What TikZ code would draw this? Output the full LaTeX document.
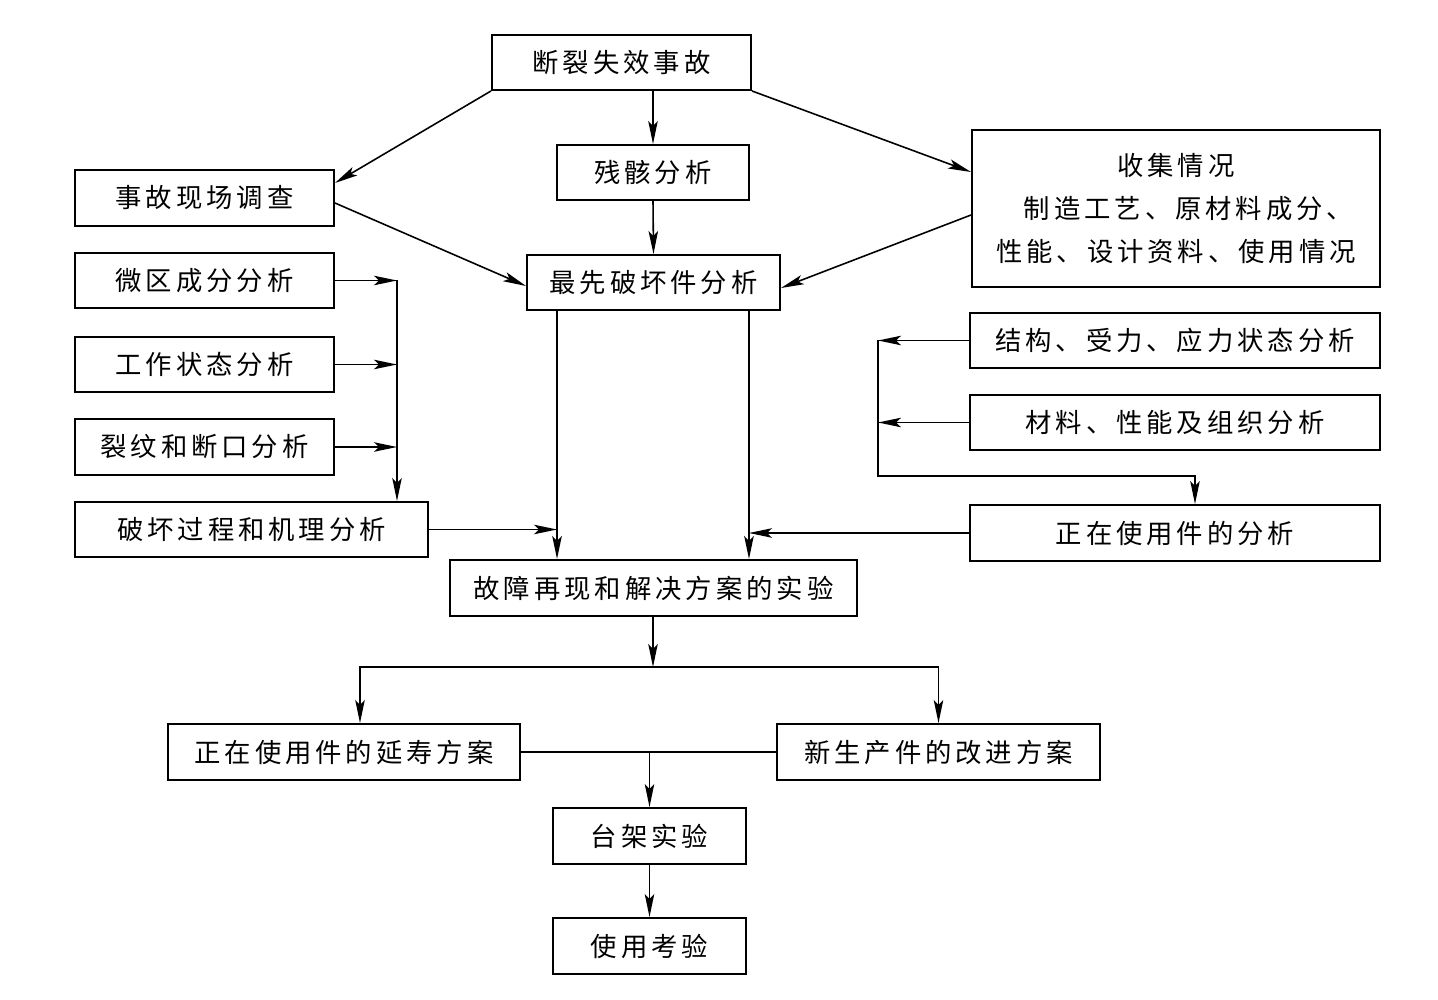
\documentclass[tikz,border=0pt]{standalone}
\usepackage{fontspec}
\setmainfont{Noto Sans CJK SC}[LetterSpace=15]
\usetikzlibrary{arrows.meta, positioning}

\begin{document}
\begin{tikzpicture}[
    x=0.02cm, y=-0.02cm,
    box/.style={draw, line width=1.1pt, inner sep=2pt, align=center,
                font=\fontsize{15}{24.4}\selectfont},
    sz/.style 2 args={minimum width=#1*0.02cm, minimum height=#2*0.02cm},
    arr/.style={-{Stealth[length=0.46cm, width=0.19cm, inset=0.1cm]}, line width=0.9pt},
    ln/.style={line width=0.9pt}
  ]
    \useasboundingbox (0,0) rectangle (1438,1000);

    % top part
    \node[box, sz={259}{55}] (acc)     at (621.5,62.5) {断裂失效事故};
    \node[box, sz={192}{55}] (wreck)   at (653,172.5)  {残骸分析};
    \node[box, sz={259}{56}] (site)    at (204.5,198)  {事故现场调查};
    \node[box, sz={408}{157}] (collect) at (1176,208.5)
         {收集情况\\\hspace*{0.5cm}制造工艺、原材料成分、\\性能、设计资料、使用情况};
    \node[box, sz={253}{55}] (first)   at (653.5,282.5) {最先破坏件分析};

    % left column
    \node[box, sz={259}{55}] (micro) at (204.5,280.5) {微区成分分析};
    \node[box, sz={259}{55}] (work)  at (204.5,364.5) {工作状态分析};
    \node[box, sz={259}{56}] (crack) at (204.5,447)   {裂纹和断口分析};
    \node[box, sz={353}{55}] (proc)  at (251.5,529.5) {\raisebox{-0.1cm}{破坏过程和机理分析}};

    % right column
    \node[box, sz={410}{55}] (struct) at (1175,340.5) {结构、受力、应力状态分析};
    \node[box, sz={410}{55}] (mat)    at (1175,422.5) {材料、性能及组织分析};
    \node[box, sz={410}{56}] (inuse)  at (1175,533)   {\raisebox{-0.12cm}{正在使用件的分析}};

    % bottom part
    \node[box, sz={407}{56}] (exper)   at (653.5,588) {故障再现和解决方案的实验};
    \node[box, sz={352}{56}] (life)    at (344,752)   {正在使用件的延寿方案};
    \node[box, sz={323}{56}] (improve) at (938.5,752) {新生产件的改进方案};
    \node[box, sz={193}{56}] (bench)   at (649.5,836) {台架实验};
    \node[box, sz={193}{56}] (field)   at (649.5,946) {使用考验};

    \coordinate (lbus)  at (397,280.5);
    \coordinate (rbus)  at (878,340.5);
    \coordinate (rturn) at (878,476);
    \coordinate (fl)    at ([xshift=-1.93cm]first.south);
    \coordinate (fr)    at ([xshift=1.91cm]first.south);
    \coordinate (split) at (653,667);
    \coordinate (join)  at (bench.north |- life.east);

    \draw[arr] (acc.south west) -- ([yshift=0.3cm]site.east);
    \draw[arr] (wreck.north |- acc.south) -- (wreck.north);
    \draw[arr] (acc.south east) -- ([yshift=0.73cm]collect.west);
    \draw[arr] (wreck.south) -- (first.north);
    \draw[arr] ([yshift=-0.1cm]site.east) -- ([yshift=-0.07cm]first.west);
    \draw[arr] ([yshift=-0.13cm]collect.west) -- ([yshift=-0.11cm]first.east);

    \draw[arr] (micro.east) -- (lbus);
    \draw[arr] (work.east) -- (work.east -| lbus);
    \draw[arr] (crack.east) -- (crack.east -| lbus);
    \draw[arr] (lbus) -- (lbus |- proc.north);

    \draw[arr, line width=1.2pt] (fl) -- (fl |- exper.north);
    \draw[arr, line width=1.2pt] (fr) -- (fr |- exper.north);
    \draw[arr] (proc.east) -- (proc.east -| fl);
    \draw[arr] (inuse.west) -- (inuse.west -| fr);

    \draw[arr] (struct.west) -- (rbus);
    \draw[arr] (mat.west) -- (mat.west -| rbus);
    \draw[arr] (rbus) -- (rturn) -| ([xshift=0.4cm]inuse.north);

    \draw[arr] (split |- exper.south) -- (split);
    \draw[arr] (split) -| ([xshift=0.32cm]life.north);
    \draw[arr] (split) -| (improve.north);
    \draw[ln] (life.east) -- (improve.west);
    \draw[arr] (join) -- (bench.north);
    \draw[arr] (bench.south) -- (field.north);
\end{tikzpicture}
\end{document}
